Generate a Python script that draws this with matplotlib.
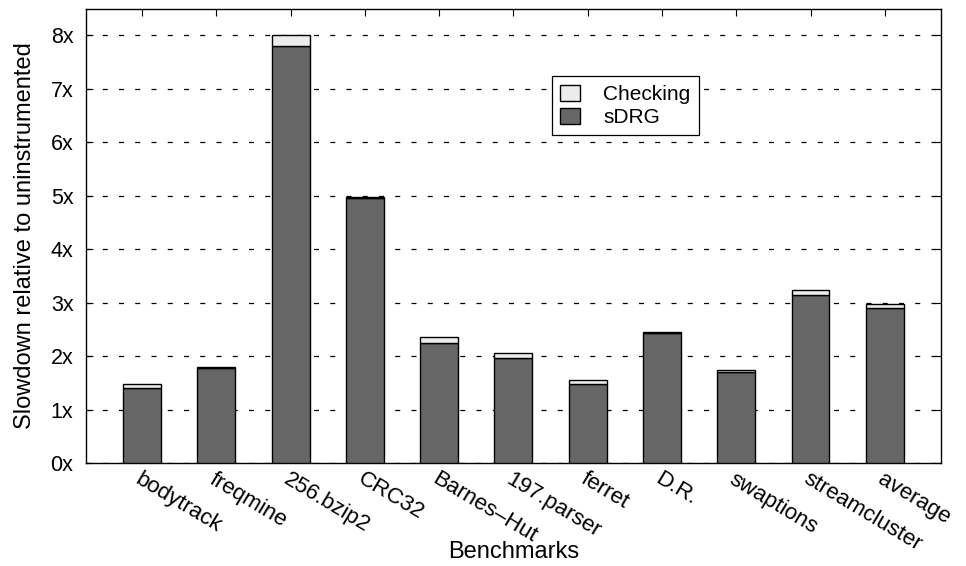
import matplotlib.pyplot as plt
import numpy as np

# Slowdown breakdown per benchmark
benchmarks = ['bodytrack', 'freqmine', '256.bzip2', 'CRC32', 'Barnes\u2013Hut',
              '197.parser', 'ferret', 'D.R.', 'swaptions', 'streamcluster', 'average']
sdrg = [1.40, 1.77, 7.80, 4.95, 2.24, 1.97, 1.48, 2.43, 1.71, 3.14, 2.90]
checking = [0.08, 0.02, 0.20, 0.02, 0.12, 0.09, 0.08, 0.02, 0.02, 0.10, 0.07]
y_ticks = [0, 1, 2, 3, 4, 5, 6, 7, 8]

plt.rcParams['font.family'] = ['Liberation Sans', 'DejaVu Sans']

fig = plt.figure(figsize=(9.66, 5.66), dpi=100)
ax = fig.add_axes([0.089, 0.182, 0.885, 0.802])

x = np.arange(len(benchmarks))
w = 0.51
ax.bar(x, sdrg, w, color='#666666', edgecolor='black', linewidth=1.0,
       label='sDRG', zorder=3)
ax.bar(x, checking, w, bottom=sdrg, color='#ececec', edgecolor='black',
       linewidth=1.0, label='Checking', zorder=3)

ax.set_xlim(-0.755, len(benchmarks) - 1 + 0.755)
ax.set_ylim(0, 8.49)
ax.set_yticks(y_ticks)
ax.set_yticklabels([f'{v}x' for v in y_ticks], fontsize=15.5)
ax.set_xticks(x)
ax.set_xticklabels(benchmarks, rotation=-31, ha='left', va='top',
                   rotation_mode='anchor', fontsize=16)

ax.grid(axis='y', color='black', linestyle=(0, (4, 9)), linewidth=0.9, zorder=1)
ax.tick_params(axis='y', direction='in', length=5, right=True, width=0.8, pad=9)
ax.tick_params(axis='x', direction='in', length=5, top=True, bottom=False,
               width=0.8, pad=4)
for s in ax.spines.values():
    s.set_linewidth(1.0)

ax.set_ylabel('Slowdown relative to uninstrumented', fontsize=17)
ax.set_xlabel('Benchmarks', fontsize=17)
ax.yaxis.set_label_coords(-0.058, 0.5)
ax.xaxis.set_label_coords(0.5, -0.172)

handles, labels = ax.get_legend_handles_labels()
leg = ax.legend(handles[::-1], labels[::-1], loc='upper left',
                bbox_to_anchor=(0.545, 0.852), fontsize=15, frameon=True,
                fancybox=False, edgecolor='black', framealpha=1,
                handlelength=0.95, handleheight=0.8, borderpad=0.4,
                labelspacing=0.2, handletextpad=1.1, borderaxespad=0)
leg.get_frame().set_linewidth(0.9)

plt.savefig('out.png', dpi=100)
plt.close()
